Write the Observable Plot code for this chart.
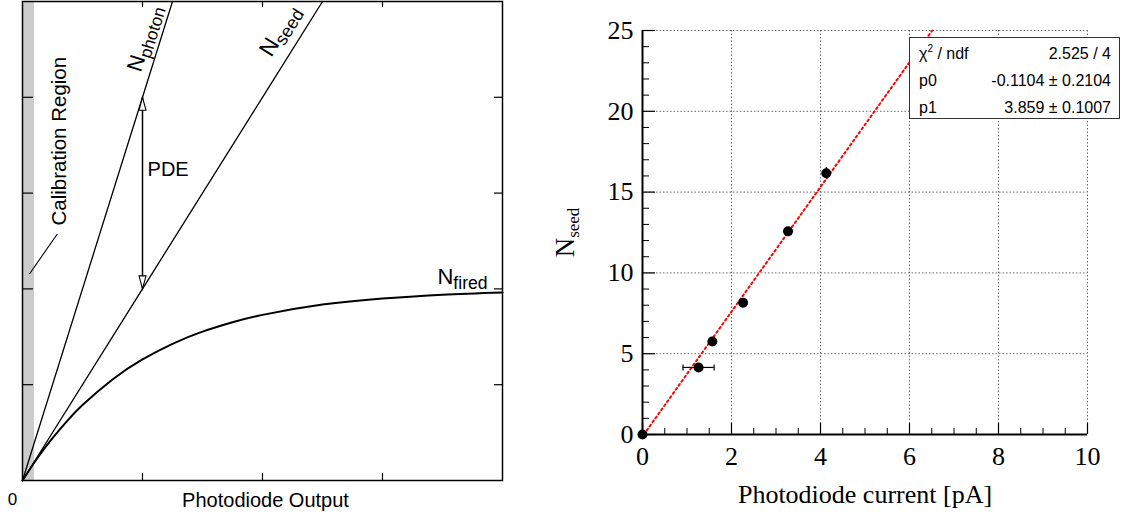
<!DOCTYPE html>
<html>
<head>
<meta charset="utf-8">
<script src="https://cdn.jsdelivr.net/npm/d3@7"></script>
<script src="https://cdn.jsdelivr.net/npm/@observablehq/plot@0.6"></script>
<style>
html, body { margin: 0; padding: 0; background: #fff; }
#wrap { position: relative; width: 1127px; height: 518px; overflow: hidden; background: #fff; }
#left { position: absolute; left: 0; top: 0; }
#right { position: absolute; left: 540px; top: 0; }
#stats { position: absolute; left: 909px; top: 37px; width: 211px; height: 82px; box-sizing: border-box;
  border: 1px solid #333; background: #fff; font-family: "Liberation Sans", Arial, sans-serif; font-size: 16px; color: #000; }
#stats .row { position: absolute; left: 9px; right: 8px; height: 27px; line-height: 27px; white-space: nowrap; }
#stats .k { position: absolute; left: 0; top: 0; }
#stats .v { position: absolute; right: 0; top: 0; }
#stats sup { font-size: 10px; line-height: 0; vertical-align: 7px; }
</style>
</head>
<body>
<div id="wrap"><div id="left"></div><div id="right"></div><div id="stats"></div></div>
<script>
// ================= DATA =================
// Left schematic (arbitrary units)
const schemXTicks = [1, 2, 3];
const schemYTicks = [1, 2, 3, 4];
const calibRegion = [0, 0.1];
const photonX = [0, 1, 1.25];
const photonY = [0, 4, 5];
const seedX = [0, 1, 2, 2.5];
const seedY = [0, 2, 4, 5];
const firedX = [0, 0.125, 0.25, 0.375, 0.5, 0.75, 1, 1.25, 1.5, 1.75, 2, 2.5, 3, 3.5, 4];
const firedY = [0, 0.235, 0.442, 0.625, 0.787, 1.055, 1.264, 1.427, 1.554, 1.652, 1.729, 1.836, 1.900, 1.940, 1.963];
const pdeArrowX = [1];
const pdeArrowY = [2, 4];
const schemLabelText = ["N_photon", "N_seed", "N_fired", "PDE", "Calibration Region"];
const schemAxisTitle = "Photodiode Output";
const schemZero = "0";

// Right: measured N_seed vs photodiode current
const ptsX = [0, 1.26, 1.57, 2.26, 3.27, 4.13];
const ptsY = [0, 4.15, 5.75, 8.15, 12.57, 16.17];
const ptsXErr = [0, 0.35, 0.04, 0.04, 0.04, 0.04];
const ptsYErr = [0, 0.15, 0.15, 0.15, 0.2, 0.35];
const fitX = [0.03, 6.51];
const fitY = [0, 25];
const xMajor = [0, 2, 4, 6, 8, 10];
const xMinor = [0.5, 1, 1.5, 2.5, 3, 3.5, 4.5, 5, 5.5, 6.5, 7, 7.5, 8.5, 9, 9.5];
const yMajor = [0, 5, 10, 15, 20, 25];
const yMinor = [1, 2, 3, 4, 6, 7, 8, 9, 11, 12, 13, 14, 16, 17, 18, 19, 21, 22, 23, 24];
const xTitle = "Photodiode current [pA]";
const yTitle = "N_seed";
const statNames = ["χ<sup>2</sup> / ndf", "p0", "p1"];
const statValues = ["2.525 / 4", "-0.1104 ± 0.2104", "3.859 ± 0.1007"];

// ================= HELPERS =================
const zip = (xs, ys) => xs.map((x, i) => ({x, y: ys[i]}));
const subStyle = {"N_photon": [0.78, 0.28], "N_seed": [0.78, 0.28], "N_fired": [0.8, 0.28]};
function subscriptify(svg, overrides = {}) {
  d3.select(svg).selectAll("text").each(function () {
    if (this.querySelector("tspan")) return;
    const t = this.textContent;
    const m = /^([^_]+)_(.+)$/.exec(t);
    if (!m) return;
    const [ratio, shift] = overrides[t] || subStyle[t] || [0.75, 0.3];
    this.textContent = m[1];
    const ts = document.createElementNS("http://www.w3.org/2000/svg", "tspan");
    ts.style.fontSize = ratio + "em";
    ts.setAttribute("dy", shift + "em");
    ts.textContent = m[2];
    this.appendChild(ts);
  });
}
const arrowUp = {draw(ctx, size) { const s = Math.sqrt(size / Math.PI) / 4.5;
  ctx.moveTo(0, 0); ctx.lineTo(-3.5 * s, 13 * s); ctx.lineTo(3.5 * s, 13 * s); ctx.closePath(); }};
const arrowDown = {draw(ctx, size) { const s = Math.sqrt(size / Math.PI) / 4.5;
  ctx.moveTo(0, 0); ctx.lineTo(-3.5 * s, -13 * s); ctx.lineTo(3.5 * s, -13 * s); ctx.closePath(); }};
const vbar = {draw(ctx, size) { ctx.moveTo(0, -3); ctx.lineTo(0, 3); }};

const sans = "Liberation Sans, Arial, Helvetica, sans-serif";
const serif = "Liberation Serif, Times New Roman, serif";

// ================= LEFT PANEL =================
const LW = 520, LH = 518, LML = 22, LMR = 18, LMT = 1, LMB = 38;
const lfw = LW - LML - LMR, lfh = LH - LMT - LMB;
const at = (x, y) => [{x, y}];
const left = Plot.plot({
  width: LW, height: LH,
  marginLeft: LML, marginRight: LMR, marginTop: LMT, marginBottom: LMB,
  x: {domain: [0, 4], axis: null},
  y: {domain: [0, 5], axis: null},
  style: {background: "transparent", overflow: "visible", fontFamily: sans},
  marks: [
    Plot.rect([calibRegion], {x1: d => d[0], x2: d => d[1], fill: "#cccccc"}),
    Plot.ruleX(schemXTicks, {x: d => d, insetTop: lfh - 7, stroke: "#000", strokeWidth: 1.2}),
    Plot.ruleX(schemXTicks, {x: d => d, insetBottom: lfh - 6, stroke: "#000", strokeWidth: 1.2}),
    Plot.ruleY(schemYTicks, {y: d => d, insetRight: lfw - 11, stroke: "#000", strokeWidth: 1.2}),
    Plot.ruleY(schemYTicks, {y: d => d, insetLeft: lfw - 8, stroke: "#000", strokeWidth: 1.2}),
    Plot.line(zip(photonX, photonY), {x: "x", y: "y", stroke: "#000", strokeWidth: 1.3}),
    Plot.line(zip(seedX, seedY), {x: "x", y: "y", stroke: "#000", strokeWidth: 1.3}),
    Plot.line(zip(firedX, firedY), {x: "x", y: "y", stroke: "#000", strokeWidth: 2, curve: "natural"}),
    Plot.ruleX(pdeArrowX, {x: d => d, y1: pdeArrowY[0], y2: pdeArrowY[1], stroke: "#000", strokeWidth: 1.5}),
    Plot.dot(pdeArrowX, {x: d => d, y: pdeArrowY[1], symbol: arrowUp, r: 4.5, fill: "white", stroke: "#000", strokeWidth: 1.1}),
    Plot.dot(pdeArrowX, {x: d => d, y: pdeArrowY[0], symbol: arrowDown, r: 4.5, fill: "white", stroke: "#000", strokeWidth: 1.1}),
    Plot.link(at(0.058, 2.156), {x1: "x", y1: "y", x2: () => 0.29, y2: () => 2.573, stroke: "#000", strokeWidth: 1.1}),
    Plot.text(at(1.011, 4.253), {x: "x", y: "y", dx: -3, dy: 0, text: () => schemLabelText[0], rotate: -72.6, textAnchor: "start", lineAnchor: "bottom", fontSize: 22, fontFamily: sans}),
    Plot.text(at(2.081, 4.41), {x: "x", y: "y", dx: -1, dy: 0, text: () => schemLabelText[1], rotate: -58, textAnchor: "start", lineAnchor: "bottom", fontSize: 23, fontFamily: sans}),
    Plot.text(at(3.458, 2.052), {x: "x", y: "y", text: () => schemLabelText[2], textAnchor: "start", lineAnchor: "bottom", fontSize: 22, fontFamily: sans}),
    Plot.text(at(1.042, 3.177), {x: "x", y: "y", text: () => schemLabelText[3], textAnchor: "start", lineAnchor: "bottom", fontSize: 20, fontFamily: sans}),
    Plot.text(at(0.304, 3.542), {x: "x", y: "y", text: () => schemLabelText[4], rotate: -90, textAnchor: "middle", lineAnchor: "middle", fontSize: 20.5, fontFamily: sans}),
    Plot.text([schemAxisTitle], {text: d => d, frameAnchor: "bottom", dx: 3, dy: 26, lineAnchor: "bottom", fontSize: 20, fontFamily: sans}),
    Plot.text([schemZero], {text: d => d, frameAnchor: "bottom-left", dx: -10, dy: 24, textAnchor: "middle", lineAnchor: "bottom", fontSize: 17, fontFamily: sans}),
    Plot.frame({stroke: "#000", strokeWidth: 1.5})
  ]
});
subscriptify(left);
document.getElementById("left").appendChild(left);

// ================= RIGHT PANEL =================
const RW = 587, RH = 518, RML = 102, RMR = 40, RMT = 30, RMB = 84;
const rfw = RW - RML - RMR, rfh = RH - RMT - RMB;
const pts = ptsX.map((x, i) => ({x, y: ptsY[i], ex: ptsXErr[i], ey: ptsYErr[i]}));
const wideX = pts.filter(d => d.ex > 0.1);
const right = Plot.plot({
  width: RW, height: RH,
  marginLeft: RML, marginRight: RMR, marginTop: RMT, marginBottom: RMB,
  x: {domain: [0, 10], label: null},
  y: {domain: [0, 25], label: null},
  style: {background: "transparent", overflow: "visible", fontFamily: serif},
  marks: [
    Plot.ruleX(xMajor.slice(1), {x: d => d, stroke: "#666", strokeWidth: 1, strokeDasharray: "1.5,2"}),
    Plot.ruleY(yMajor.slice(1), {y: d => d, stroke: "#666", strokeWidth: 1, strokeDasharray: "1.5,2"}),
    Plot.ruleY(yMinor, {y: d => d, insetRight: rfw - 7, stroke: "#000", strokeWidth: 1}),
    Plot.ruleY(yMajor, {y: d => d, insetRight: rfw - 13, stroke: "#000", strokeWidth: 1.2}),
    Plot.ruleX(xMinor, {x: d => d, insetTop: rfh - 6, stroke: "#000", strokeWidth: 1}),
    Plot.ruleX(xMajor, {x: d => d, insetTop: rfh - 11, stroke: "#000", strokeWidth: 1.2}),
    Plot.ruleX([xMajor[0]], {x: d => d, stroke: "#000", strokeWidth: 2}),
    Plot.ruleY([yMajor[0]], {y: d => d, stroke: "#000", strokeWidth: 2}),
    Plot.line(zip(fitX, fitY), {x: "x", y: "y", stroke: "#ff0000", strokeWidth: 2, strokeDasharray: "2,3"}),
    Plot.ruleY(pts, {y: "y", x1: d => d.x - d.ex, x2: d => d.x + d.ex, stroke: "#000", strokeWidth: 1.2}),
    Plot.ruleX(pts, {x: "x", y1: d => d.y - d.ey, y2: d => d.y + d.ey, stroke: "#000", strokeWidth: 1.2}),
    Plot.dot(wideX, {x: d => d.x - d.ex, y: "y", symbol: vbar, stroke: "#000", strokeWidth: 1.2}),
    Plot.dot(wideX, {x: d => d.x + d.ex, y: "y", symbol: vbar, stroke: "#000", strokeWidth: 1.2}),
    Plot.dot(pts, {x: "x", y: "y", r: 5, fill: "#000"}),
    Plot.axisX(xMajor, {tickSize: 0, tickPadding: 12, fontSize: 26, fontFamily: serif, tickFormat: d => String(d), label: null}),
    Plot.axisY(yMajor, {tickSize: 0, tickPadding: 9, fontSize: 26, fontFamily: serif, tickFormat: d => String(d), label: null}),
    Plot.text([xTitle], {text: d => d, frameAnchor: "bottom", dy: 60, lineAnchor: "middle", fontSize: 26, fontFamily: serif}),
    Plot.text([yTitle], {text: d => d, frameAnchor: "left", rotate: -90, dx: -77.5, textAnchor: "middle", lineAnchor: "middle", fontSize: 27, fontFamily: serif})
  ]
});
subscriptify(right, {"N_seed": [0.63, 0.3]});
document.getElementById("right").appendChild(right);

// ================= STATS BOX =================
const stats = document.getElementById("stats");
statNames.forEach((k, i) => {
  const row = document.createElement("div");
  row.className = "row";
  row.style.top = (2 + 27 * i) + "px";
  row.innerHTML = `<span class="k">${k}</span><span class="v">${statValues[i]}</span>`;
  stats.appendChild(row);
});
</script>
</body>
</html>
